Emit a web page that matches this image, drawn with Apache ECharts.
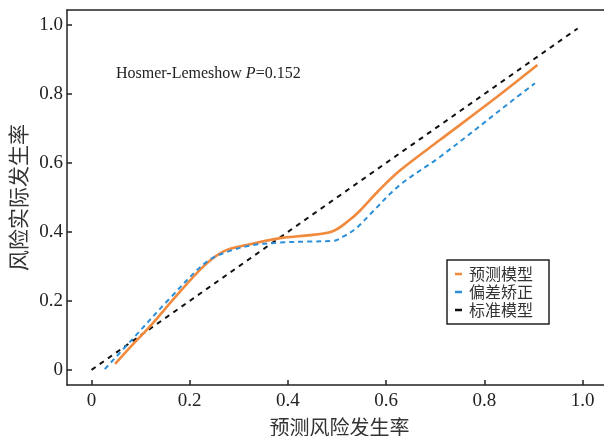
<!DOCTYPE html>
<html><head><meta charset="utf-8">
<script src="https://cdn.jsdelivr.net/npm/echarts@6/dist/echarts.min.js"></script>
<style>html,body{margin:0;padding:0;background:#fff}#c{width:604px;height:436px}</style>
</head><body><div id="c"></div>
<script>
const seriesNames = ['预测模型', '偏差矫正', '标准模型'];
const predicted = [[0.048,0.017],[0.085,0.075],[0.119,0.126],[0.17,0.21],[0.228,0.30],[0.268,0.343],[0.316,0.362],[0.384,0.382],[0.44,0.39],[0.49,0.401],[0.526,0.435],[0.547,0.462],[0.585,0.52],[0.628,0.578],[0.71,0.667],[0.818,0.783],[0.908,0.884]];
const corrected = [[0.027,0.002],[0.082,0.087],[0.16,0.208],[0.235,0.314],[0.282,0.345],[0.33,0.362],[0.384,0.369],[0.44,0.372],[0.492,0.374],[0.512,0.386],[0.54,0.412],[0.57,0.455],[0.628,0.536],[0.71,0.618],[0.859,0.783],[0.903,0.831]];
const ideal = [[0,0],[0.99,0.99]];
const tickValues = [0, 0.2, 0.4, 0.6, 0.8, 1.0];
const xTitle = '预测风险发生率';
const yTitle = '风险实际发生率';
const annotation = 'Hosmer-Lemeshow ';

const colors = ['#f28a3e', '#2a8fd8', '#111111'];
const fmt = v => Math.abs(v) < 1e-9 ? '0' : v.toFixed(1);
const chart = echarts.init(document.getElementById('c'), null, {renderer: 'canvas'});
const lineSt = {color: '#222', width: 1.5};
const axisCommon = {
  type: 'value',
  axisLine: {show: true, onZero: false, lineStyle: lineSt},
  axisTick: {show: true, inside: true, length: 5, customValues: tickValues, lineStyle: lineSt},
  axisLabel: {customValues: tickValues, formatter: fmt, color: '#222', fontFamily: 'Liberation Serif', fontSize: 19},
  splitLine: {show: false}
};
const xRange = {min: -0.05, max: 1.06};
chart.setOption({
  animation: false,
  grid: {left: 67, top: 10, right: -8, bottom: 51, show: false, containLabel: false, outerBoundsMode: 'none'},
  xAxis: [
    Object.assign({}, axisCommon, xRange, {name: xTitle, nameLocation: 'middle', nameGap: 32,
      axisLabel: Object.assign({}, axisCommon.axisLabel, {margin: 7}),
      nameTextStyle: {fontFamily: 'Noto Sans CJK SC', fontSize: 20, color: '#333'}}),
    Object.assign({}, xRange, {type: 'value', position: 'top',
      axisLine: {show: true, onZero: false, lineStyle: lineSt},
      axisTick: {show: false}, axisLabel: {show: false}, splitLine: {show: false}})
  ],
  yAxis: Object.assign({}, axisCommon, {min: -0.044, max: 1.0435, name: yTitle, nameLocation: 'middle', nameGap: 37, nameRotate: 90,
    axisLabel: Object.assign({}, axisCommon.axisLabel, {margin: 4}),
    nameTextStyle: {fontFamily: 'Noto Sans CJK SC', fontSize: 21, color: '#333'}}),
  legend: {
    orient: 'vertical', left: 447, top: 260,
    padding: [6, 16, 6, 8], itemGap: 2,
    borderColor: '#222', borderWidth: 1.5,
    icon: 'rect', itemWidth: 7, itemHeight: 2.5,
    textStyle: {fontFamily: 'Noto Sans CJK SC', fontSize: 16, color: '#333', padding: [0, 0, 0, 2]},
    data: seriesNames
  },
  graphic: [{
    type: 'text', left: 116, top: 66,
    style: {
      text: '{a|' + annotation + '}{b|P}{a|=0.152}',
      rich: {
        a: {fontFamily: 'Liberation Serif', fontSize: 16, fill: '#222'},
        b: {fontFamily: 'Liberation Serif', fontSize: 16, fontStyle: 'italic', fill: '#222'}
      }
    }
  }],
  series: [
    {name: seriesNames[0], type: 'line', data: predicted, smooth: 0.35, showSymbol: false, z: 3,
      lineStyle: {color: colors[0], width: 2.6}, itemStyle: {color: colors[0]}},
    {name: seriesNames[1], type: 'line', data: corrected, smooth: 0.35, showSymbol: false, z: 4,
      lineStyle: {color: colors[1], width: 2, type: [5, 4]}, itemStyle: {color: colors[1]}},
    {name: seriesNames[2], type: 'line', data: ideal, showSymbol: false, z: 2,
      lineStyle: {color: colors[2], width: 2, type: [5, 5]}, itemStyle: {color: colors[2]}}
  ]
});
</script></body></html>
